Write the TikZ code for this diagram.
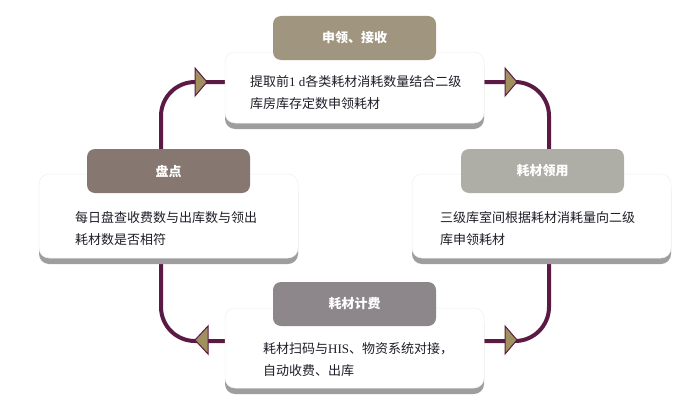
\documentclass[tikz,border=0pt]{standalone}
\usepackage{fontspec}
\setmainfont{Liberation Serif}
\newfontfamily\cjk{Noto Sans CJK SC}
\newfontfamily\lat{Liberation Serif}
\definecolor{loopc}{HTML}{5B1A43}
\definecolor{arrowc}{HTML}{A0905F}
\definecolor{textc}{HTML}{1E1E28}
\definecolor{hA}{HTML}{A0967F}
\definecolor{hB}{HTML}{867870}
\definecolor{hC}{HTML}{AEAEA7}
\definecolor{hD}{HTML}{8D868A}
\begin{document}
\begin{tikzpicture}[x=1pt,y=-1pt,
  card/.style={fill=white, draw=black!6, line width=0.5pt, rounded corners=10pt, minimum width=259pt, inner sep=0pt},
  shadowc/.style={fill=black!38, rounded corners=10pt},
  head/.style={rounded corners=8pt, text=white, font=\cjk\bfseries\fontsize{13}{13}\selectfont, inner sep=0pt, minimum width=163pt, minimum height=44pt},
  body/.style={font=\cjk\fontsize{13}{22}\selectfont, text=textc, align=left, anchor=base west, inner sep=0pt},
  loopline/.style={draw=loopc, line width=4pt, rounded corners=34pt},
  tri/.style={fill=arrowc, draw=loopc, line width=1pt, line join=miter}]
\useasboundingbox (0,0) rectangle (700,404);

% connector corner coordinates
\coordinate (l1a) at (161,150);
\coordinate (l1e) at (225,82);
\coordinate (l2a) at (484,82);
\coordinate (l2e) at (549,150);
\coordinate (l3a) at (549,258);
\coordinate (l3e) at (484,341);
\coordinate (l4a) at (161,258);
\coordinate (l4e) at (225,341);

% loop connectors
\draw[loopline] (l1a) |- (l1e);
\draw[loopline] (l2a) -| (l2e);
\draw[loopline] (l3a) |- (l3e);
\draw[loopline] (l4a) |- (l4e);

% arrow triangles
\draw[tri] (195,68) -- (207,82) -- (195,96) -- cycle;
\draw[tri] (505,68) -- (517,82) -- (505,96) -- cycle;
\draw[tri] (505,326) -- (517,340) -- (505,354) -- cycle;
\draw[tri] (208,326) -- (195,340) -- (208,354) -- cycle;

% shadows
\fill[shadowc] (225,56) rectangle (484,129);
\fill[shadowc] (39,180) rectangle (298,264);
\fill[shadowc] (412,180) rectangle (671,264);
\fill[shadowc] (225,313) rectangle (484,394);

% cards
\node[card, minimum height=71pt] (c1) at (354.5,87.5) {};
\node[card, minimum height=84pt] (c2) at (168.5,216) {};
\node[card, minimum height=84pt] (c3) at (541.5,216) {};
\node[card, minimum height=80pt] (c4) at (354.5,348) {};

% headers
\node[head, fill=hA] (h1) at (354.5,38) {申领、接收};
\node[head, fill=hB] (h2) at (168.5,171) {盘点};
\node[head, fill=hC] (h3) at (542.5,171) {耗材领用};
\node[head, fill=hD] (h4) at (354.5,304) {耗材计费};

% body texts
\node[body] (t1) at (250,108) {提取前{\lat 1 d}各类耗材消耗数量结合二级\\库房库存定数申领耗材};
\node[body] (t2) at (75,244) {每日盘查收费数与出库数与领出\\耗材数是否相符};
\node[body] (t3) at (440,244) {三级库室间根据耗材消耗量向二级\\库申领耗材};
\node[body] (t4) at (263,375) {耗材扫码与{\lat HIS}、物资系统对接，\\自动收费、出库};
\end{tikzpicture}
\end{document}
